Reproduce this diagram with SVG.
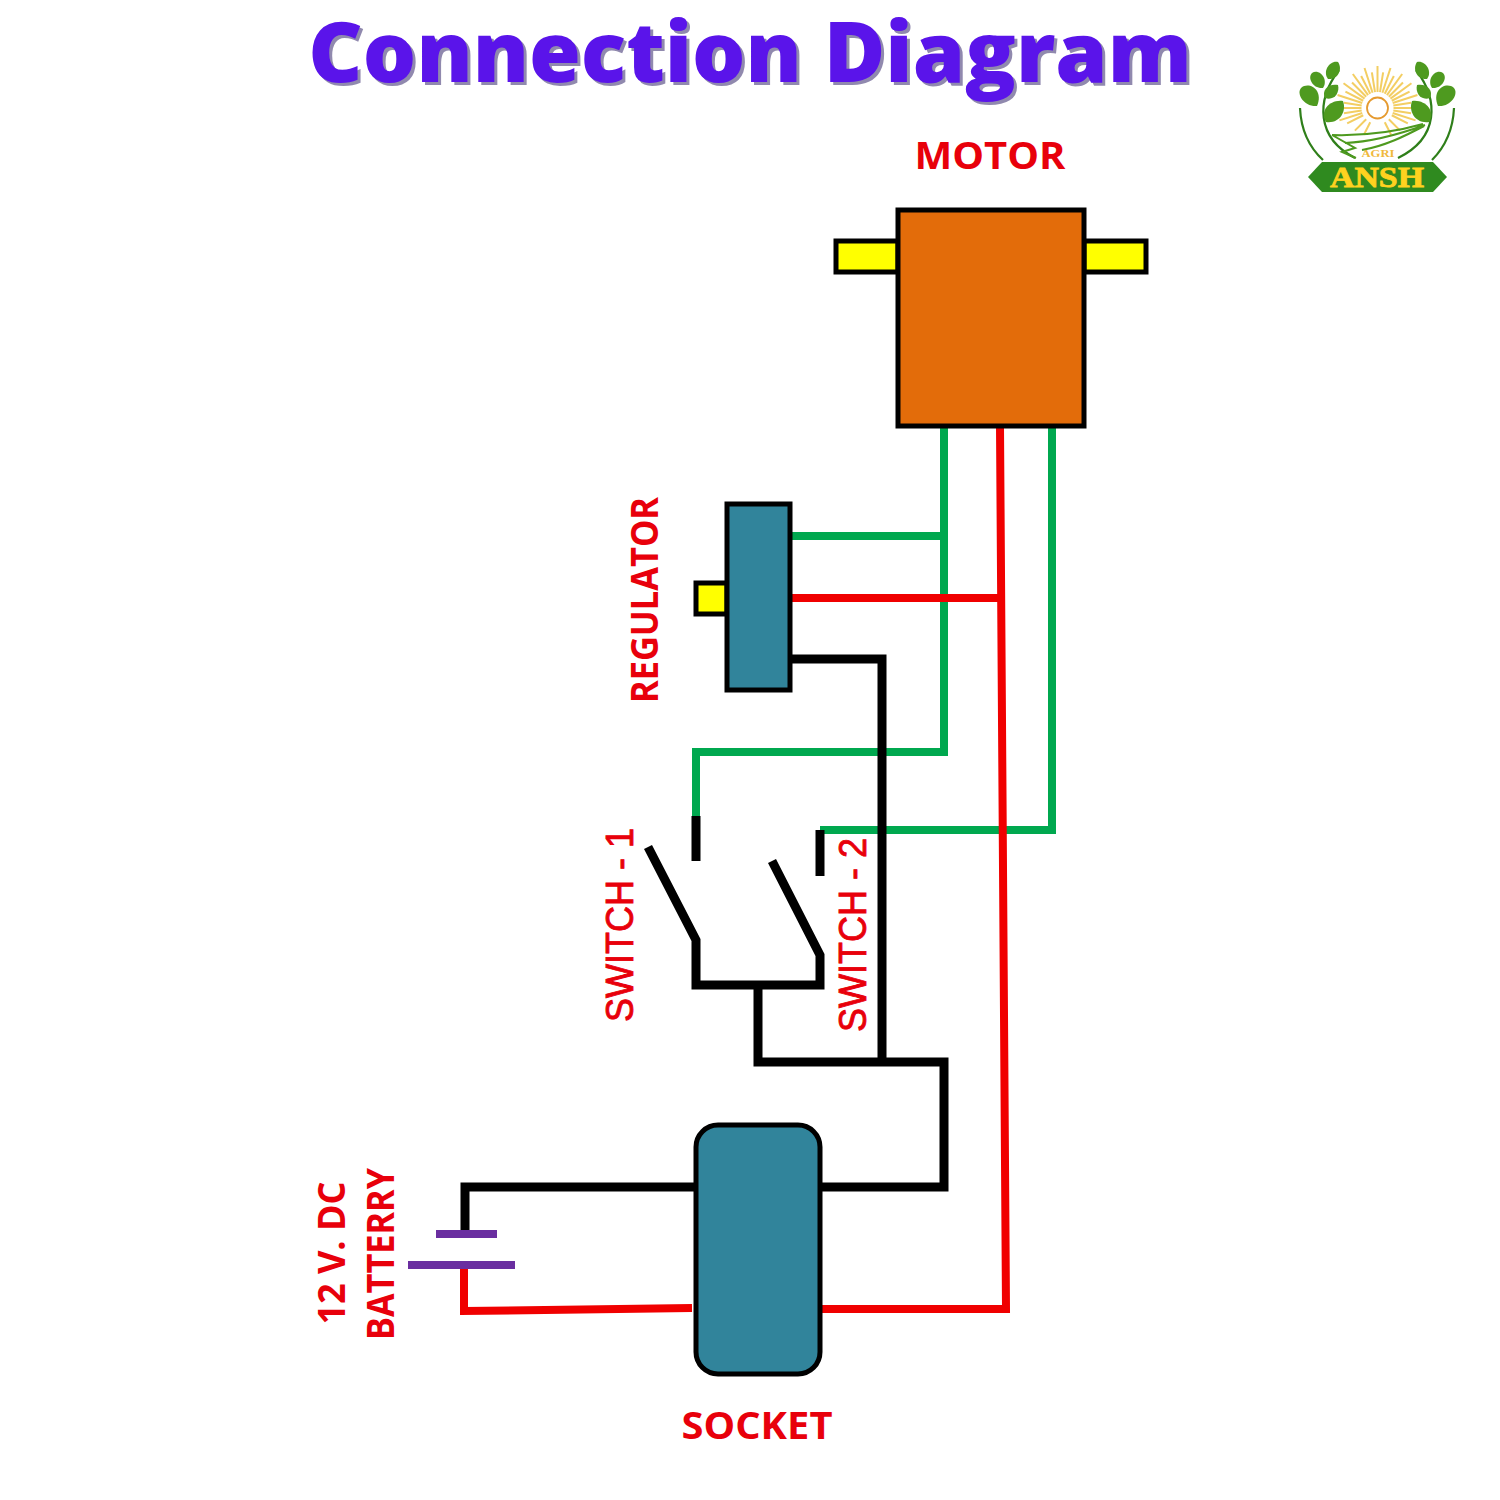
<svg xmlns="http://www.w3.org/2000/svg" width="1500" height="1500" viewBox="0 0 1500 1500">
<defs>
<g id="leaves">
<path d="M1317 106C1304 107 1296 94 1301 88C1309 81 1324 90 1317 106Z"/>
<path d="M1323 88C1313 89 1307 78 1312 73C1319 68 1329 79 1323 88Z"/>
<path d="M1328 79C1322 71 1330 60 1338 62C1343 69 1338 80 1328 79Z"/>
<path d="M1325 98C1321 90 1329 83 1338 85C1340 93 1334 101 1325 98Z"/>
<path d="M1326 122C1319 111 1330 99 1343 101C1347 112 1339 124 1326 122Z"/>
</g>
</defs>
<style>
.box{stroke:#000;stroke-width:5;stroke-linejoin:miter}
.w{fill:none;stroke-width:8;stroke-linejoin:miter;stroke-linecap:butt}
.g{stroke:#00A84F}.r{stroke:#F00000}.k{stroke:#000;stroke-width:9}.p{stroke:#6A2EA0}
.l{fill:#E8000B;font-family:"Open Sans","Liberation Sans",sans-serif;font-weight:700;font-size:38px;text-anchor:middle}
.s{fill:#E8000B;font-family:"Liberation Sans",sans-serif;font-size:39px;text-anchor:middle;stroke:#E8000B;stroke-width:.9}
.leaf{fill:#4E9A1F}
.st{fill:none;stroke:#2F7F1A;stroke-width:2.2}
.gr{fill:none;stroke:#4E9A1F;stroke-width:2}
.ray{stroke:#F3CE63;stroke-width:2}
</style>
<rect width="1500" height="1500" fill="#fff"/>
<text id="title" x="750" y="82" text-anchor="middle" font-family="'Open Sans','Liberation Sans',sans-serif" font-weight="800" font-size="84" fill="#5A14EA" style="filter:drop-shadow(3px 3px 0 #9089AE)">Connection Diagram</text>

<g id="connectors">
<path class="w g" d="M944 426V752H696V816"/>
<path class="w g" d="M1052 426V830H820"/>
<path class="w g" d="M790 536H944"/>
<path class="w k" d="M696 816V861"/>
<path class="w k" d="M820 830V876"/>
<path class="w k" d="M648 847L696 940V985H820V955L772 861"/>
<path class="w k" d="M758 985V1062H944V1187H820"/>
<path class="w k" d="M790 659H882V1062"/>
<path class="w k" d="M696 1187H465V1232"/>
<path class="w r" d="M790 598H1003"/>
<path class="w r" d="M1000 426L1006 1309H820"/>
<path class="w r" d="M464 1266V1311L692 1308"/>
</g>

<g id="motor">
<rect class="box" x="836" y="241" width="62" height="31" fill="#FFFF00"/>
<rect class="box" x="1084" y="241" width="62" height="31" fill="#FFFF00"/>
<rect class="box" x="898" y="210" width="186" height="216" fill="#E36C0A"/>
<text class="l" x="990" y="169" textLength="151" lengthAdjust="spacingAndGlyphs">MOTOR</text>
</g>
<g id="regulator">
<rect class="box" x="696" y="583" width="31" height="31" fill="#FFFF00"/>
<rect class="box" x="727" y="504" width="63" height="186" fill="#31849B"/>
<text class="l" transform="translate(658 600) rotate(-90)" textLength="206" lengthAdjust="spacingAndGlyphs">REGULATOR</text>
</g>
<g id="switch-1"><text class="s" transform="translate(633 925) rotate(-90)" textLength="194" lengthAdjust="spacingAndGlyphs">SWITCH - 1</text></g>
<g id="switch-2"><text class="s" transform="translate(866 935) rotate(-90)" textLength="194" lengthAdjust="spacingAndGlyphs">SWITCH - 2</text></g>
<g id="socket">
<rect class="box" x="696" y="1125" width="124" height="249" rx="22" fill="#31849B"/>
<text class="l" x="757" y="1439" textLength="151" lengthAdjust="spacingAndGlyphs">SOCKET</text>
</g>
<g id="battery">
<path class="w p" d="M436 1234H497M408 1265H515"/>
<text class="l" transform="translate(345 1253) rotate(-90)" textLength="143" lengthAdjust="spacingAndGlyphs">12 V. DC</text>
<text class="l" transform="translate(394 1254) rotate(-90)" textLength="172" lengthAdjust="spacingAndGlyphs">BATTERRY</text>
</g>

<g id="logo">
<g class="ray">
<line x1="1377.500" y1="92" x2="1377.500" y2="66"/>
<line x1="1377.500" y1="92" x2="1377.500" y2="72" transform="rotate(-9 1377.500 108)"/>
<line x1="1377.500" y1="92" x2="1377.500" y2="66" transform="rotate(-18 1377.500 108)"/>
<line x1="1377.500" y1="92" x2="1377.500" y2="72" transform="rotate(-27 1377.500 108)"/>
<line x1="1377.500" y1="92" x2="1377.500" y2="66" transform="rotate(-36 1377.500 108)"/>
<line x1="1377.500" y1="92" x2="1377.500" y2="72" transform="rotate(-45 1377.500 108)"/>
<line x1="1377.500" y1="92" x2="1377.500" y2="66" transform="rotate(-54 1377.500 108)"/>
<line x1="1377.500" y1="92" x2="1377.500" y2="72" transform="rotate(-63 1377.500 108)"/>
<line x1="1377.500" y1="92" x2="1377.500" y2="66" transform="rotate(-72 1377.500 108)"/>
<line x1="1377.500" y1="92" x2="1377.500" y2="74" transform="rotate(-81 1377.500 108)"/>
<line x1="1377.500" y1="92" x2="1377.500" y2="74" transform="rotate(-90 1377.500 108)"/>
<line x1="1377.500" y1="92" x2="1377.500" y2="74" transform="rotate(-99 1377.500 108)"/>
<line x1="1377.500" y1="92" x2="1377.500" y2="68" transform="rotate(-108 1377.500 108)"/>
<line x1="1377.500" y1="92" x2="1377.500" y2="74" transform="rotate(-117 1377.500 108)"/>
<line x1="1377.500" y1="92" x2="1377.500" y2="76" transform="rotate(-135 1377.500 108)"/>
<line x1="1377.500" y1="92" x2="1377.500" y2="78" transform="rotate(-153 1377.500 108)"/>
<line x1="1377.500" y1="92" x2="1377.500" y2="72" transform="rotate(9 1377.500 108)"/>
<line x1="1377.500" y1="92" x2="1377.500" y2="66" transform="rotate(18 1377.500 108)"/>
<line x1="1377.500" y1="92" x2="1377.500" y2="72" transform="rotate(27 1377.500 108)"/>
<line x1="1377.500" y1="92" x2="1377.500" y2="66" transform="rotate(36 1377.500 108)"/>
<line x1="1377.500" y1="92" x2="1377.500" y2="72" transform="rotate(45 1377.500 108)"/>
<line x1="1377.500" y1="92" x2="1377.500" y2="66" transform="rotate(54 1377.500 108)"/>
<line x1="1377.500" y1="92" x2="1377.500" y2="72" transform="rotate(63 1377.500 108)"/>
<line x1="1377.500" y1="92" x2="1377.500" y2="66" transform="rotate(72 1377.500 108)"/>
<line x1="1377.500" y1="92" x2="1377.500" y2="74" transform="rotate(81 1377.500 108)"/>
<line x1="1377.500" y1="92" x2="1377.500" y2="74" transform="rotate(90 1377.500 108)"/>
<line x1="1377.500" y1="92" x2="1377.500" y2="74" transform="rotate(99 1377.500 108)"/>
<line x1="1377.500" y1="92" x2="1377.500" y2="68" transform="rotate(108 1377.500 108)"/>
<line x1="1377.500" y1="92" x2="1377.500" y2="74" transform="rotate(117 1377.500 108)"/>
<line x1="1377.500" y1="92" x2="1377.500" y2="76" transform="rotate(135 1377.500 108)"/>
<line x1="1377.500" y1="92" x2="1377.500" y2="78" transform="rotate(153 1377.500 108)"/>
</g>
<circle cx="1377.500" cy="108" r="10.500" fill="#fff" stroke="#E59A2F" stroke-width="1.800"/>
<path class="st" d="M1339 70C1316 100 1316 138 1355 158"/>
<path class="st" d="M1416 70C1439 100 1439 138 1398 158"/>
<path class="st" d="M1300 108C1301 130 1310 148 1323 160"/>
<path class="st" d="M1454 108C1453 130 1444 148 1432 160"/>
<use href="#leaves" class="leaf"/>
<use href="#leaves" class="leaf" transform="matrix(-1 0 0 1 2755 0)"/>
<path class="gr" d="M1423 124C1395 132 1365 136 1332 135M1425 125C1400 134 1370 142 1345 143M1424 126C1405 136 1385 146 1362 150M1332 135L1355 148L1342 152L1356 158"/>
<polygon points="1308,177 1322,162 1433,162 1447,177 1433,192 1322,192" fill="#2F8A1F"/>
<text x="1378" y="157" text-anchor="middle" font-family="'Liberation Serif',serif" font-weight="700" font-size="11" fill="#F0B93B" textLength="33" lengthAdjust="spacingAndGlyphs">AGRI</text>
<text x="1377" y="187" text-anchor="middle" font-family="'Liberation Serif',serif" font-weight="700" font-size="30" fill="#FFD21F" stroke="#FFD21F" stroke-width=".8" textLength="94" lengthAdjust="spacingAndGlyphs">ANSH</text>
</g>
</svg>
